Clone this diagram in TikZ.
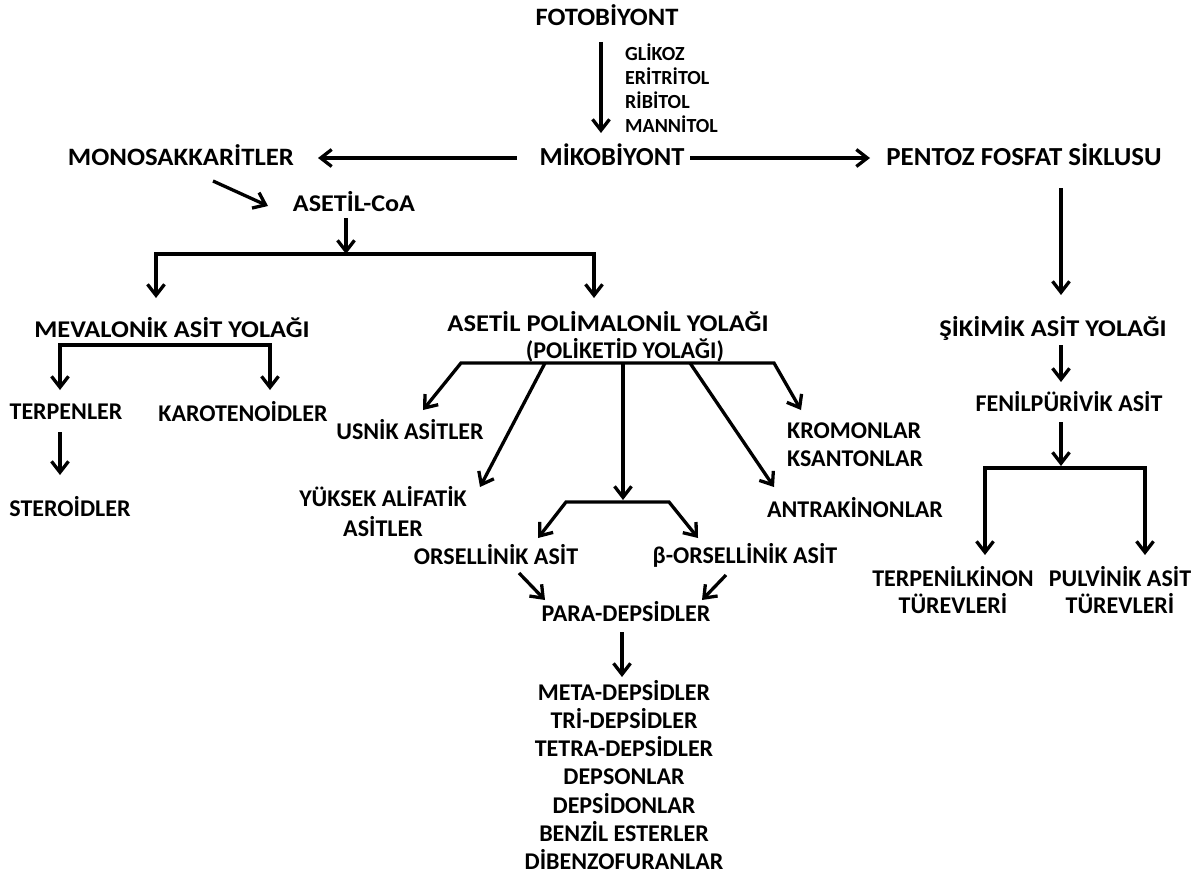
\documentclass[tikz,border=0pt]{standalone}
\usepackage{fontspec}
\setmainfont{Carlito}
\usetikzlibrary{arrows.meta}
\begin{document}
\begin{tikzpicture}[x=1pt,y=-1pt,
  lbl/.style={inner sep=0pt,font=\bfseries\fontsize{24}{28}\selectfont},
  sml/.style={inner sep=0pt,font=\bfseries\fontsize{20}{24}\selectfont,align=left},
  arr/.style={line width=3.3pt,-{Straight Barb[length=11pt,width=17pt]}},
  arrb/.style={line width=3.3pt,{Straight Barb[length=11pt,width=17pt]}-{Straight Barb[length=11pt,width=17pt]},line join=miter},
  ln/.style={line width=3.3pt}]
\fill[white] (0,0) rectangle (1201,875);
\useasboundingbox (0,0) rectangle (1201,875);

% nodes
\node[lbl] (foto) at (607,15) {\scalebox{1.06}[1]{\fontsize{25}{28}\selectfont FOTOBİYONT}};
\node[sml,anchor=west] (sugars) at (625,88) {GLİKOZ\\ERİTRİTOL\\RİBİTOL\\MANNİTOL};
\node[lbl] (miko) at (612,155) {\scalebox{1.02}[1]{\fontsize{26}{28}\selectfont MİKOBİYONT}};
\node[lbl] (mono) at (181,155) {\scalebox{1.07}[1]{\fontsize{25}{28}\selectfont MONOSAKKARİTLER}};
\node[lbl] (pentoz) at (1024,155) {\scalebox{1.035}[1]{\fontsize{26}{28}\selectfont PENTOZ FOSFAT SİKLUSU}};
\node[lbl] (asetil) at (354,202) {\scalebox{1.09}[1]{ASETİL-CoA}};
\node[lbl] (meva) at (172,328) {\scalebox{1.1}[1]{MEVALONİK ASİT YOLAĞI}};
\node[lbl] (poli) at (608,322) {\scalebox{1.107}[1]{ASETİL POLİMALONİL YOLAĞI}};
\node[lbl] (poliket) at (625,350) {(POLİKETİD YOLAĞI)};
\node[lbl] (terp) at (66,412) {TERPENLER};
\node[lbl] (karo) at (243,412) {KAROTENOİDLER};
\node[lbl] (stero) at (70,507) {STEROİDLER};
\node[lbl] (usnik) at (410,430) {USNİK ASİTLER};
\node[lbl,align=center] (yuksek) at (383,512) {YÜKSEK ALİFATİK\\[2pt]ASİTLER};
\node[lbl,align=left,anchor=west] (krom) at (787,445) {KROMONLAR\\KSANTONLAR};
\node[lbl] (antra) at (855,508) {ANTRAKİNONLAR};
\node[lbl] (ors) at (496,555) {ORSELLİNİK ASİT};
\node[lbl] (bors) at (745,555) {β-ORSELLİNİK ASİT};
\node[lbl] (para) at (626,612) {PARA-DEPSİDLER};
\node[lbl,align=center,font=\bfseries\fontsize{24}{28.2}\selectfont] (list) at (624,775) {META-DEPSİDLER\\TRİ-DEPSİDLER\\TETRA-DEPSİDLER\\DEPSONLAR\\DEPSİDONLAR\\BENZİL ESTERLER\\DİBENZOFURANLAR};
\node[lbl] (siki) at (1053,328) {\scalebox{1.1}[1]{ŞİKİMİK ASİT YOLAĞI}};
\node[lbl] (fenil) at (1069,402) {FENİLPÜRİVİK ASİT};
\node[lbl,align=center,font=\bfseries\fontsize{24}{27}\selectfont] (terpk) at (953,590) {TERPENİLKİNON\\TÜREVLERİ};
\node[lbl,align=center,font=\bfseries\fontsize{24}{27}\selectfont] (pulv) at (1120,590) {PULVİNİK ASİT\\TÜREVLERİ};

% connector coordinates
\coordinate (fotoS) at (601,42);
\coordinate (mikoN) at (601,133);
\coordinate (mikoW) at (517,158);
\coordinate (monoE) at (318,158);
\coordinate (mikoE) at (690,158);
\coordinate (pentozW) at (870,158);
\coordinate (monoSE) at (213,181);
\coordinate (asetilW) at (268,206);
\coordinate (asetilS) at (346,218);
\coordinate (bar1) at (346,254);
\coordinate (mevaN) at (156,298);
\coordinate (poliN) at (594,298);
\coordinate (mevaS) at (165,345);
\coordinate (terpN) at (60,390);
\coordinate (karoN) at (270,390);
\coordinate (terpS) at (60,432);
\coordinate (steroN) at (60,475);
\coordinate (pb1) at (461,363);
\coordinate (pb2) at (545,363);
\coordinate (pb3) at (623,363);
\coordinate (pb4) at (690,363);
\coordinate (pb5) at (774,363);
\coordinate (usnikN) at (423,410);
\coordinate (yuksekN) at (480,487);
\coordinate (ob) at (623,500);
\coordinate (antraN) at (774,487);
\coordinate (kromN) at (801,410);
\coordinate (ob1) at (566,502);
\coordinate (ob2) at (669,502);
\coordinate (orsN) at (538,538);
\coordinate (borsN) at (698,538);
\coordinate (orsS) at (519,573);
\coordinate (borsS) at (726,575);
\coordinate (paraNW) at (545,600);
\coordinate (paraNE) at (702,600);
\coordinate (paraS) at (622,632);
\coordinate (listN) at (622,677);
\coordinate (pentozS) at (1061,188);
\coordinate (sikiN) at (1061,295);
\coordinate (sikiS) at (1061,345);
\coordinate (fenilN) at (1061,382);
\coordinate (fenilS) at (1061,422);
\coordinate (rb) at (1061,466);
\coordinate (rbm) at (1061,468);
\coordinate (terpkN) at (985,555);
\coordinate (pulvN) at (1145,555);

% connectors
\draw[arr] (fotoS) -- (mikoN);
\draw[arr] (mikoW) -- (monoE);
\draw[arr] (mikoE) -- (pentozW);
\draw[arr] (monoSE) -- (asetilW);
\draw[arr] (asetilS) -- (bar1);
\draw[arrb] (mevaN) |- (bar1) -| (poliN);
\draw[arrb] (terpN) |- (mevaS) -| (karoN);
\draw[arr] (terpS) -- (steroN);
\draw[arrb] (usnikN) -- (pb1) -- (pb5) -- (kromN);
\draw[arr] (pb2) -- (yuksekN);
\draw[arr] (pb3) -- (ob);
\draw[arr] (pb4) -- (antraN);
\draw[arrb] (orsN) -- (ob1) -- (ob2) -- (borsN);
\draw[arr] (orsS) -- (paraNW);
\draw[arr] (borsS) -- (paraNE);
\draw[arr] (paraS) -- (listN);
\draw[arr] (pentozS) -- (sikiN);
\draw[arr] (sikiS) -- (fenilN);
\draw[arr] (fenilS) -- (rb);
\draw[arrb] (terpkN) |- (rbm) -| (pulvN);
\end{tikzpicture}
\end{document}
